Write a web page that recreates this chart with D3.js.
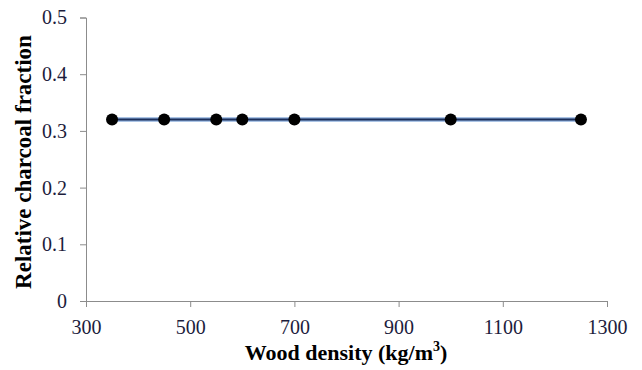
<!DOCTYPE html>
<html><head><meta charset="utf-8">
<script src="https://cdn.jsdelivr.net/npm/d3@7"></script>
<style>body{margin:0;background:#fff}svg{display:block}</style>
</head><body>
<script>
const densities = [350, 450, 550, 600, 700, 1000, 1250];
const fractions = [0.32, 0.32, 0.32, 0.32, 0.32, 0.32, 0.32];
const xTicks = [300, 500, 700, 900, 1100, 1300];
const yTicks = [0, 0.1, 0.2, 0.3, 0.4, 0.5];

const W = 642, H = 370;
const m = {left: 86, right: 35, top: 17.5, bottom: 69};
const svg = d3.select("body").append("svg").attr("width", W).attr("height", H);
const x = d3.scaleLinear().domain([300, 1300]).range([m.left, W - m.right]);
const y = d3.scaleLinear().domain([0, 0.5]).range([H - m.bottom, m.top]);
const font = "'Liberation Serif', 'Times New Roman', serif";

const gx = svg.append("g").attr("transform", `translate(0,${H - m.bottom})`)
  .call(d3.axisBottom(x).tickValues(xTicks).tickSize(6).tickPadding(13).tickFormat(d3.format("d")));
const gy = svg.append("g").attr("transform", `translate(${m.left},0)`)
  .call(d3.axisLeft(y).tickValues(yTicks).tickSize(6).tickPadding(13).tickFormat(d => d === 0 ? "0" : d3.format(".1f")(d)));
[gx, gy].forEach(g => {
  g.selectAll("path,line").attr("stroke", "#8c8c8c").attr("stroke-width", 1);
  g.selectAll("text").attr("font-family", font).attr("font-size", 20).attr("fill", "#1c1c3c");
});

const line = d3.line().x((d, i) => x(densities[i])).y(d => y(d));
svg.append("path").datum(fractions).attr("d", line).attr("fill", "none")
  .attr("stroke", "#8fb0dc").attr("stroke-width", 4.5);
svg.append("path").datum(fractions).attr("d", line).attr("fill", "none")
  .attr("stroke", "#1c2f5a").attr("stroke-width", 2);

svg.selectAll("circle.pt").data(fractions).enter().append("circle")
  .attr("class", "pt").attr("cx", (d, i) => x(densities[i])).attr("cy", d => y(d))
  .attr("r", 6).attr("fill", "#000");

const xl = svg.append("text").attr("x", 346).attr("y", 360)
  .attr("text-anchor", "middle").attr("font-family", font).attr("font-weight", "bold")
  .attr("font-size", 22).attr("fill", "#000");
xl.append("tspan").text("Wood density (kg/m");
xl.append("tspan").text("3").attr("font-size", 14).attr("dy", -9);
xl.append("tspan").text(")").attr("dy", 9);

svg.append("text").attr("transform", `translate(31,${162}) rotate(-90)`)
  .attr("text-anchor", "middle").attr("font-family", font).attr("font-weight", "bold")
  .attr("font-size", 23).attr("fill", "#000").text("Relative charcoal fraction");
</script>
</body></html>
